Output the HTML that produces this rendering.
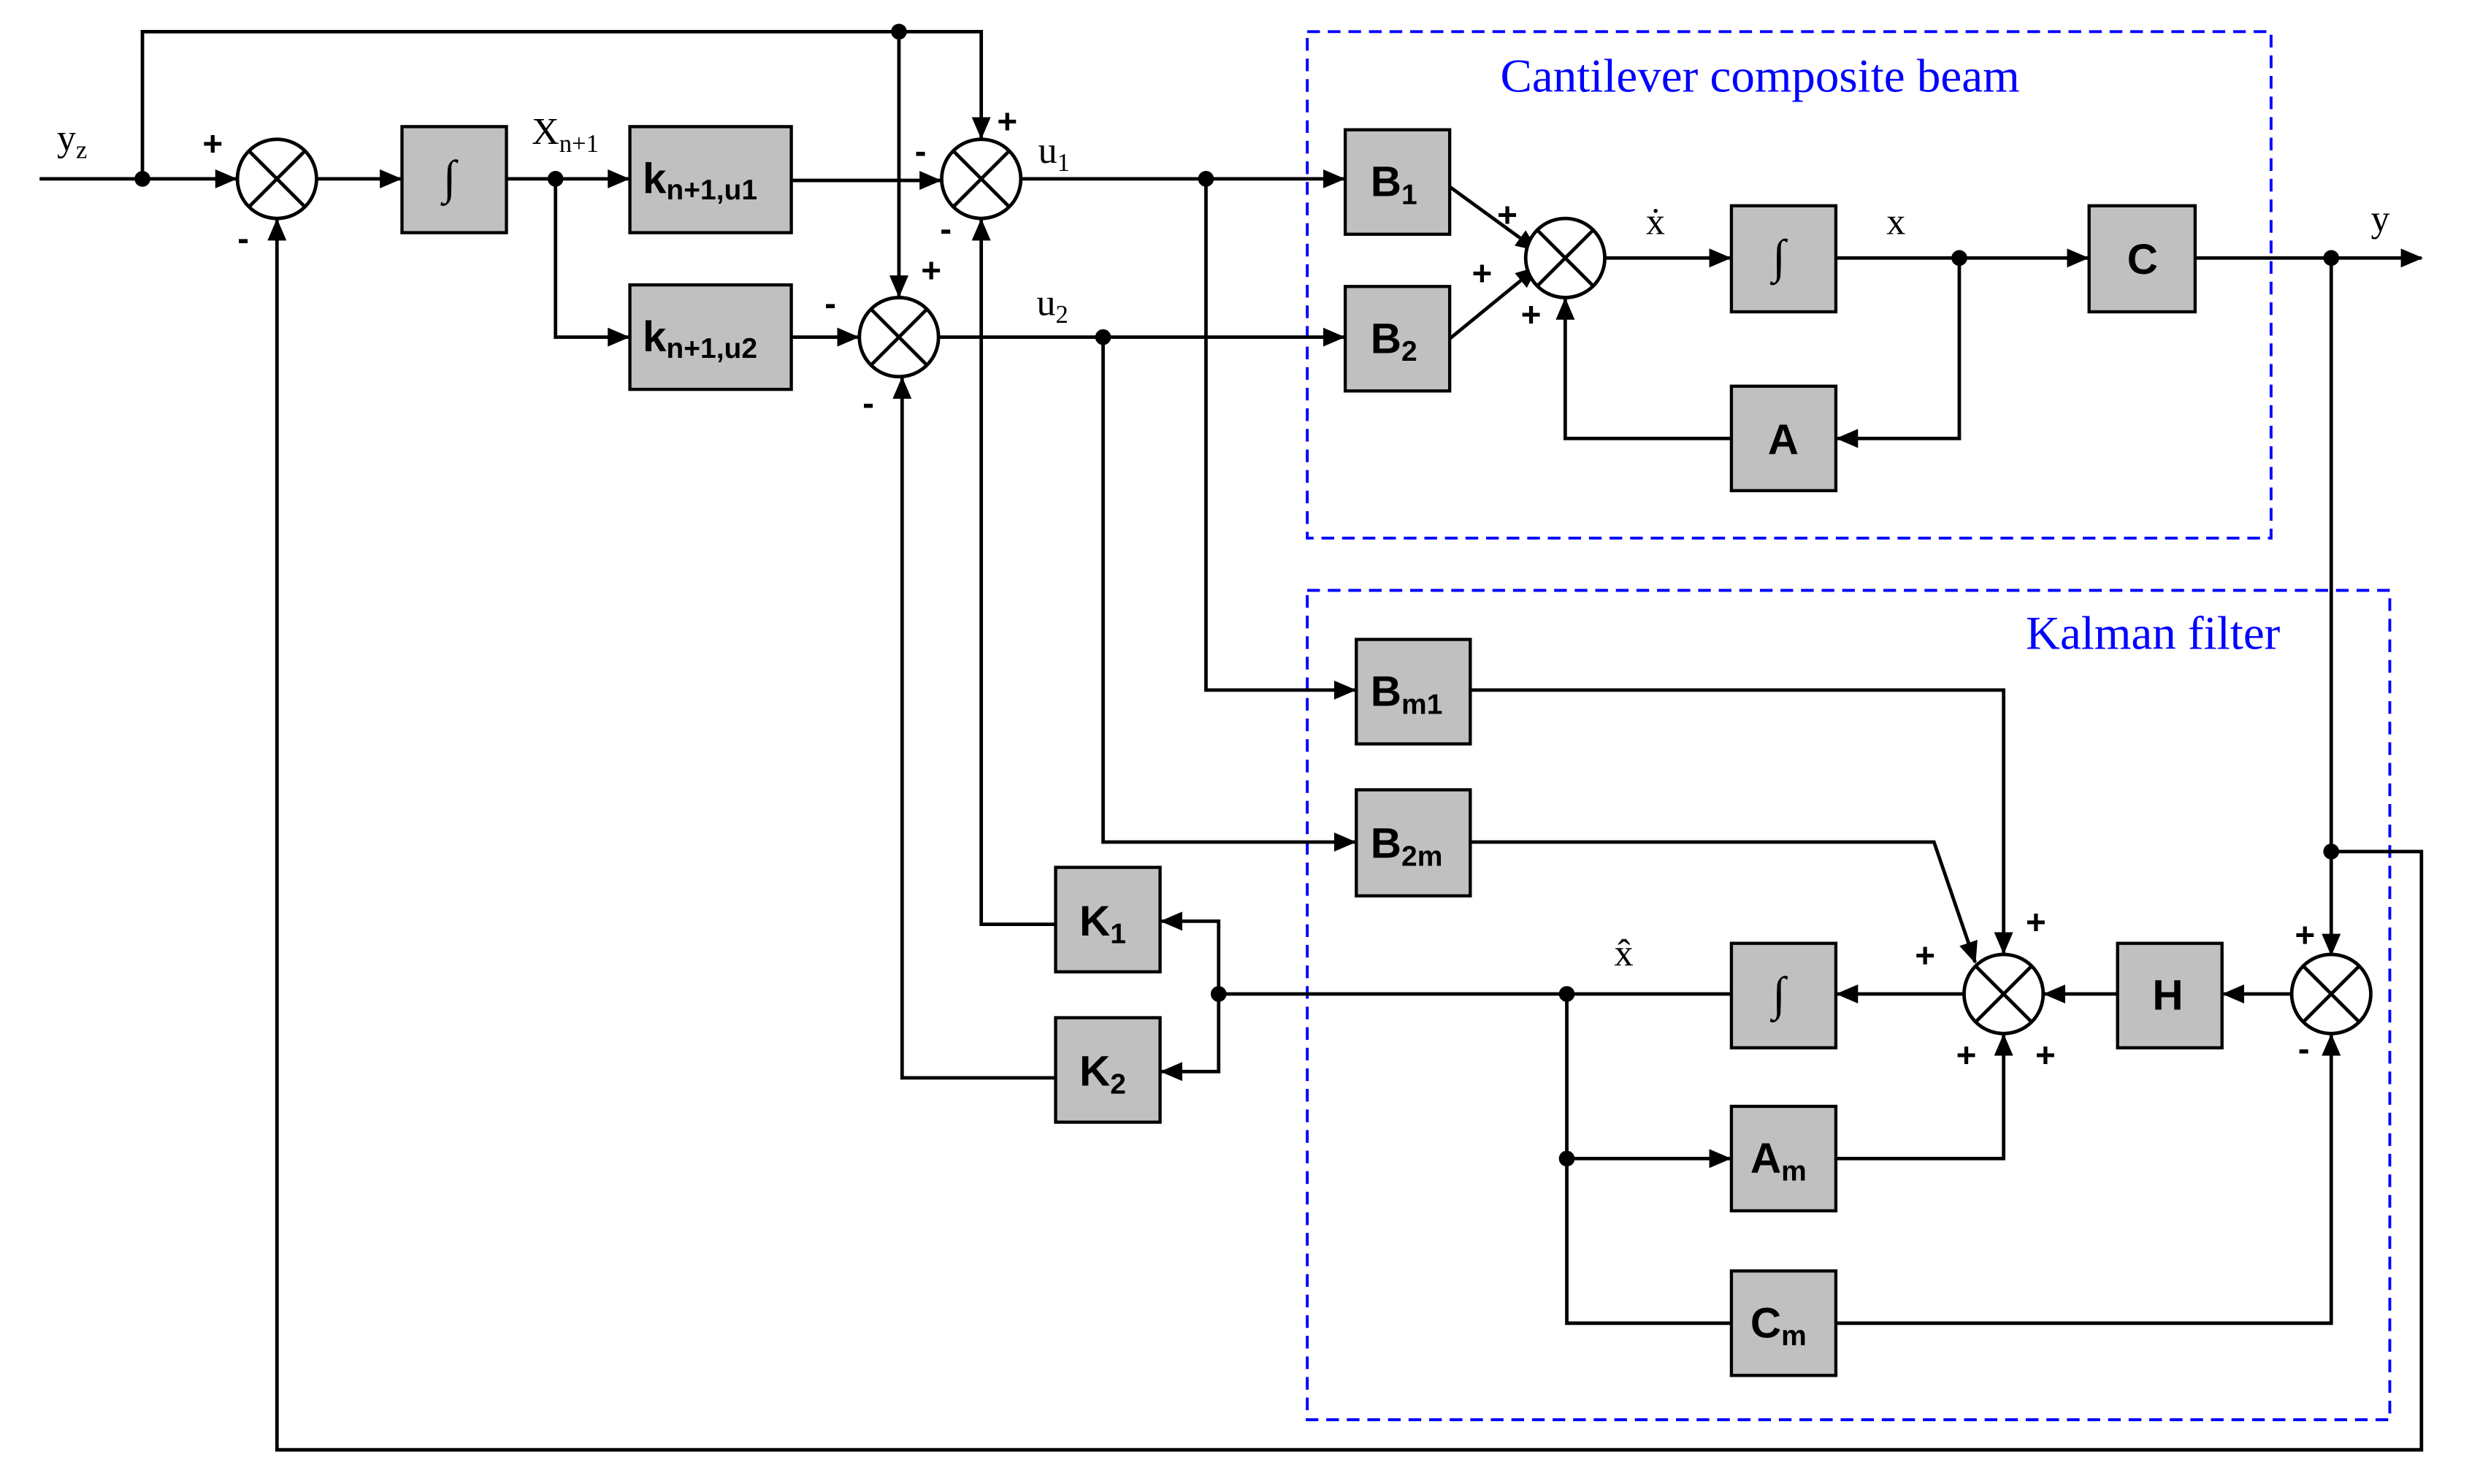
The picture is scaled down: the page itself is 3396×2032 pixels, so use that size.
<!DOCTYPE html>
<html><head><meta charset="utf-8"><style>
html,body{margin:0;padding:0;background:#fff;}
svg{display:block;}
.b{fill:#c0c0c0;stroke:#000;stroke-width:2;}
.l{fill:none;stroke:#000;stroke-width:2.2;}
.t{font-family:"Liberation Sans",sans-serif;font-weight:bold;font-size:27px;}
.s{font-family:"Liberation Serif",serif;font-size:24px;}
.p{font-family:"Liberation Sans",sans-serif;font-weight:bold;font-size:22px;}
.blue{fill:#0000ff;font-family:"Liberation Serif",serif;font-size:30px;}
</style></head><body>
<svg width="3396" height="2032" viewBox="0 0 1567 937.6" preserveAspectRatio="none">
<defs><marker id="a" markerWidth="14" markerHeight="12" refX="13" refY="6" orient="auto" markerUnits="userSpaceOnUse"><path d="M0,0 L14,6 L0,12 z"/></marker></defs>
<rect x="826" y="20" width="609" height="320" fill="none" stroke="#0000ff" stroke-width="1.8" stroke-dasharray="8,5"/>
<rect x="826" y="373" width="684" height="524" fill="none" stroke="#0000ff" stroke-width="1.8" stroke-dasharray="8,5"/>
<text class="blue" x="948" y="58">Cantilever composite beam</text>
<text class="blue" x="1280" y="410">Kalman filter</text>
<g class="l">
<path d="M25,113 H149" marker-end="url(#a)"/>
<path d="M90,113 V20 H620 V87" marker-end="url(#a)"/>
<path d="M568,20 V187" marker-end="url(#a)"/>
<path d="M200,113 H253" marker-end="url(#a)"/>
<path d="M320,113 H397" marker-end="url(#a)"/>
<path d="M351,113 V213 H397" marker-end="url(#a)"/>
<path d="M500,114 H594" marker-end="url(#a)"/>
<path d="M500,213 H542" marker-end="url(#a)"/>
<path d="M645,113 H849" marker-end="url(#a)"/>
<path d="M593,213 H849" marker-end="url(#a)"/>
<path d="M762,113 V436 H856" marker-end="url(#a)"/>
<path d="M697,213 V532 H856" marker-end="url(#a)"/>
<path d="M916,118 L971,158" marker-end="url(#a)"/>
<path d="M916,214 L971,169" marker-end="url(#a)"/>
<path d="M1014,163 H1093" marker-end="url(#a)"/>
<path d="M1160,163 H1319" marker-end="url(#a)"/>
<path d="M1238,163 V277 H1161" marker-end="url(#a)"/>
<path d="M1094,277 H989 V189" marker-end="url(#a)"/>
<path d="M1387,163 H1530" marker-end="url(#a)"/>
<path d="M1473,163 V603" marker-end="url(#a)"/>
<path d="M1473,538 H1530 V916 H175 V139" marker-end="url(#a)"/>
<path d="M929,436 H1266 V602" marker-end="url(#a)"/>
<path d="M929,532 H1222 L1248,608" marker-end="url(#a)"/>
<path d="M1448,628 H1405" marker-end="url(#a)"/>
<path d="M1338,628 H1292" marker-end="url(#a)"/>
<path d="M1241,628 H1161" marker-end="url(#a)"/>
<path d="M1094,628 H770"/>
<path d="M770,628 V582 H734" marker-end="url(#a)"/>
<path d="M770,628 V677 H734" marker-end="url(#a)"/>
<path d="M667,584 H620 V139" marker-end="url(#a)"/>
<path d="M667,681 H570 V239" marker-end="url(#a)"/>
<path d="M990,628 V732 H1093" marker-end="url(#a)"/>
<path d="M990,732 V836 H1094"/>
<path d="M1160,732 H1266 V654" marker-end="url(#a)"/>
<path d="M1160,836 H1473 V654" marker-end="url(#a)"/>
</g>
<g fill="#000">
<circle cx="90" cy="113" r="5"/><circle cx="568" cy="20" r="5"/><circle cx="351" cy="113" r="5"/>
<circle cx="762" cy="113" r="5"/><circle cx="697" cy="213" r="5"/><circle cx="1238" cy="163" r="5"/>
<circle cx="1473" cy="163" r="5"/><circle cx="1473" cy="538" r="5"/><circle cx="990" cy="628" r="5"/>
<circle cx="770" cy="628" r="5"/><circle cx="990" cy="732" r="5"/>
</g>
<g stroke="#000" stroke-width="2.2" fill="#fff">
<circle cx="175" cy="113" r="25"/><path d="M157,95 L193,131 M193,95 L157,131"/>
<circle cx="620" cy="113" r="25"/><path d="M602,95 L638,131 M638,95 L602,131"/>
<circle cx="568" cy="213" r="25"/><path d="M550,195 L586,231 M586,195 L550,231"/>
<circle cx="989" cy="163" r="25"/><path d="M971,145 L1007,181 M1007,145 L971,181"/>
<circle cx="1266" cy="628" r="25"/><path d="M1248,610 L1284,646 M1284,610 L1248,646"/>
<circle cx="1473" cy="628" r="25"/><path d="M1455,610 L1491,646 M1491,610 L1455,646"/>
</g>
<rect class="b" x="254" y="80" width="66" height="67"/>
<rect class="b" x="398" y="80" width="102" height="67"/>
<rect class="b" x="398" y="180" width="102" height="66"/>
<rect class="b" x="850" y="82" width="66" height="66"/>
<rect class="b" x="850" y="181" width="66" height="66"/>
<rect class="b" x="1094" y="130" width="66" height="67"/>
<rect class="b" x="1320" y="130" width="67" height="67"/>
<rect class="b" x="1094" y="244" width="66" height="66"/>
<rect class="b" x="857" y="404" width="72" height="66"/>
<rect class="b" x="857" y="499" width="72" height="67"/>
<rect class="b" x="667" y="548" width="66" height="66"/>
<rect class="b" x="667" y="643" width="66" height="66"/>
<rect class="b" x="1094" y="596" width="66" height="66"/>
<rect class="b" x="1338" y="596" width="66" height="66"/>
<rect class="b" x="1094" y="699" width="66" height="66"/>
<rect class="b" x="1094" y="803" width="66" height="66"/>
<text class="s" x="280" y="122" style="font-size:30px">∫</text>
<text class="s" x="1120" y="172" style="font-size:30px">∫</text>
<text class="s" x="1120" y="638" style="font-size:30px">∫</text>
<text class="t" x="406" y="122">k<tspan font-size="18" dy="4">n+1,u1</tspan></text>
<text class="t" x="406" y="222">k<tspan font-size="18" dy="4">n+1,u2</tspan></text>
<text class="t" x="866" y="124">B<tspan font-size="18" dy="5">1</tspan></text>
<text class="t" x="866" y="223">B<tspan font-size="18" dy="5">2</tspan></text>
<text class="t" x="1344" y="173">C</text>
<text class="t" x="1117" y="287">A</text>
<text class="t" x="866" y="446">B<tspan font-size="18" dy="5">m1</tspan></text>
<text class="t" x="866" y="542">B<tspan font-size="18" dy="5">2m</tspan></text>
<text class="t" x="682" y="591">K<tspan font-size="18" dy="5">1</tspan></text>
<text class="t" x="682" y="686">K<tspan font-size="18" dy="5">2</tspan></text>
<text class="t" x="1360" y="638">H</text>
<text class="t" x="1106" y="741">A<tspan font-size="18" dy="5">m</tspan></text>
<text class="t" x="1106" y="845">C<tspan font-size="18" dy="5">m</tspan></text>
<text class="s" x="36" y="95">y<tspan font-size="16" dy="5">z</tspan></text>
<text class="s" x="336" y="91">X<tspan font-size="16" dy="5">n+1</tspan></text>
<text class="s" x="656" y="103">u<tspan font-size="16" dy="5">1</tspan></text>
<text class="s" x="655" y="199">u<tspan font-size="16" dy="5">2</tspan></text>
<text class="s" x="1040" y="148">ẋ</text>
<text class="s" x="1192" y="148">x</text>
<text class="s" x="1498" y="146">y</text>
<text class="s" x="1020" y="610">x̂</text>
<g class="p">
<text x="128" y="98">+</text><text x="150" y="158">-</text>
<text x="578" y="103">-</text><text x="630" y="84">+</text><text x="594" y="152">-</text>
<text x="521" y="199">-</text><text x="582" y="178">+</text><text x="545" y="262">-</text>
<text x="946" y="143">+</text><text x="930" y="180">+</text><text x="961" y="206">+</text>
<text x="1210" y="611">+</text><text x="1280" y="590">+</text><text x="1236" y="674">+</text><text x="1286" y="674">+</text>
<text x="1450" y="598">+</text><text x="1452" y="670">-</text>
</g>
</svg>
</body></html>
